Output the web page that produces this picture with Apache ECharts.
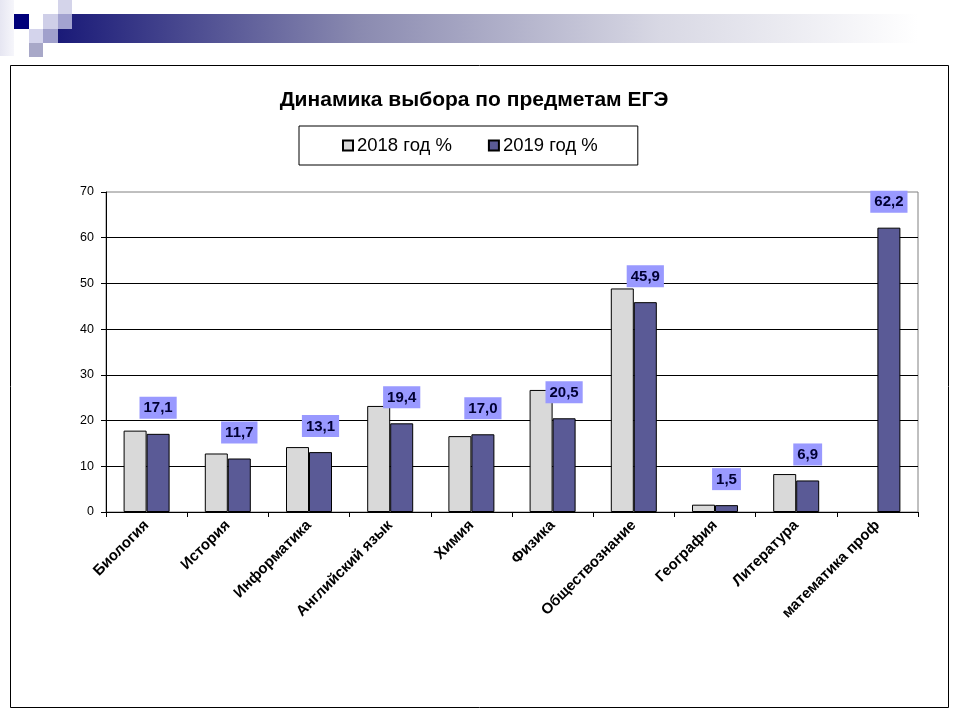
<!DOCTYPE html>
<html>
<head>
<meta charset="utf-8">
<script src="https://cdn.jsdelivr.net/npm/echarts@6/dist/echarts.min.js"></script>
<style>
  html, body { margin: 0; padding: 0; background: #fff; }
  #main { width: 960px; height: 720px; }
</style>
</head>
<body>
<div id="main"></div>
<script>
// 数据
let categories = ['Биология', 'История', 'Информатика', 'Английский язык', 'Химия',
    'Физика', 'Обществознание', 'География', 'Литература', 'математика проф'];
let values2018 = [17.8, 12.8, 14.2, 23.2, 16.6, 26.7, 48.9, 1.6, 8.3, null];
let values2019 = [17.1, 11.7, 13.1, 19.4, 17.0, 20.5, 45.9, 1.5, 6.9, 62.2];
let seriesNames = ['2018 год %', '2019 год %'];

let myChart = echarts.init(document.getElementById('main'));

let option = {
    backgroundColor: '#fff',
    animation: false,
    textStyle: { fontFamily: 'Liberation Sans, Arial, sans-serif' },
    graphic: [
        // 顶部装饰
        {
            type: 'rect', shape: { x: 0, y: 0, width: 14, height: 56 },
            style: { fill: new echarts.graphic.LinearGradient(0, 0, 1, 0, [
                { offset: 0, color: '#e6e6f2' }, { offset: 1, color: '#f6f6fb' }]) }
        },
        {
            type: 'rect', shape: { x: 58, y: 14, width: 860, height: 29 },
            style: { fill: new echarts.graphic.LinearGradient(0, 0, 1, 0, [
                { offset: 0, color: '#1a1a78' },
                { offset: 0.35, color: '#8a8ab0' },
                { offset: 0.7, color: '#d8d8e4' },
                { offset: 1, color: '#ffffff' }]) }
        },
        { type: 'rect', shape: { x: 14, y: 14, width: 15, height: 15 }, style: { fill: '#00007a' } },
        { type: 'rect', shape: { x: 58, y: 0, width: 14, height: 14 }, style: { fill: '#d4d4ea' } },
        { type: 'rect', shape: { x: 43, y: 14, width: 15, height: 15 }, style: { fill: '#cfcfe8' } },
        { type: 'rect', shape: { x: 58, y: 14, width: 14, height: 15 }, style: { fill: '#a3a3d0' } },
        { type: 'rect', shape: { x: 29, y: 29, width: 14, height: 14 }, style: { fill: '#d4d4ec' } },
        { type: 'rect', shape: { x: 43, y: 29, width: 15, height: 14 }, style: { fill: '#a0a0cc' } },
        { type: 'rect', shape: { x: 29, y: 43, width: 14, height: 14 }, style: { fill: '#a8a8c8' } },
        // 外框
        {
            type: 'rect', shape: { x: 10.5, y: 65.5, width: 938, height: 642 },
            style: { fill: 'none', stroke: '#000', lineWidth: 1 }, z: -1
        }
    ],
    title: {
        text: 'Динамика выбора по предметам ЕГЭ',
        left: 469,
        textAlign: 'center',
        top: 85,
        textStyle: { fontSize: 21, fontWeight: 'bold', color: '#000', fontFamily: 'Liberation Sans, Arial, sans-serif' }
    },
    legend: {
        data: seriesNames,
        left: 299,
        top: 126,
        padding: [10, 40, 10, 43],
        itemGap: 36,
        itemWidth: 10,
        itemHeight: 10,
        borderColor: '#000',
        borderWidth: 1,
        icon: 'rect',
        textStyle: { fontSize: 18.5, color: '#000', padding: [0, 0, 0, -1] }
    },
    grid: {
        left: 106, right: 42, top: 192, bottom: 208,
        show: true,
        borderColor: '#808080',
        borderWidth: 1
    },
    xAxis: {
        type: 'category',
        data: categories,
        axisLine: { lineStyle: { color: '#000', width: 1 } },
        axisTick: { show: true, length: 5, lineStyle: { color: '#000' } },
        axisLabel: {
            rotate: 45, margin: 11, color: '#000',
            fontSize: 15, fontWeight: 'bold', interval: 0
        }
    },
    yAxis: {
        type: 'value',
        min: 0, max: 70, interval: 10,
        axisLine: { show: true, lineStyle: { color: '#000', width: 1 } },
        axisTick: { show: true, length: 5, lineStyle: { color: '#000' } },
        axisLabel: { color: '#000', fontSize: 12.5, margin: 12 },
        splitLine: { show: true, showMinLine: false, showMaxLine: false, lineStyle: { color: '#000', width: 1 } }
    },
    series: [
        {
            name: seriesNames[0],
            type: 'bar',
            data: values2018,
            barWidth: 23,
            barGap: '0%',
            itemStyle: { color: '#d9d9d9', borderColor: '#000', borderWidth: 1 }
        },
        {
            name: seriesNames[1],
            type: 'bar',
            data: values2019,
            barWidth: 23,
            barGap: '0%',
            itemStyle: { color: '#5a5a96', borderColor: '#000', borderWidth: 1 },
            label: {
                show: true,
                position: 'top',
                distance: 15,
                backgroundColor: '#9999ff',
                padding: [4, 4, 3, 4],
                color: '#000033',
                fontSize: 15,
                fontWeight: 'bold',
                formatter: function (p) {
                    return p.value.toFixed(1).replace('.', ',');
                }
            }
        }
    ]
};

myChart.setOption(option);
</script>
</body>
</html>
